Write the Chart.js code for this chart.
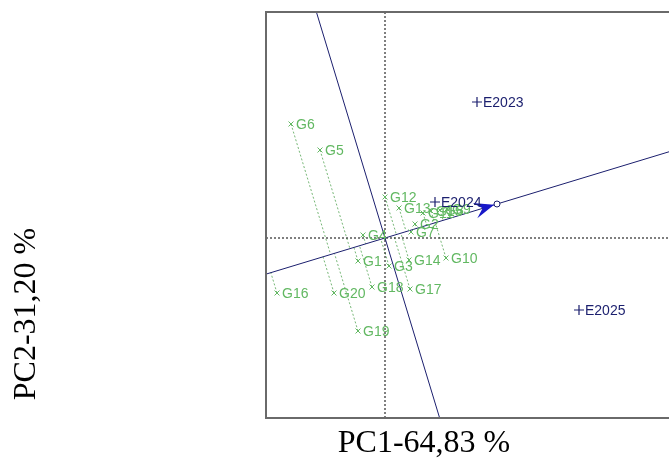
<!DOCTYPE html>
<html><head><meta charset="utf-8">
<script src="https://cdn.jsdelivr.net/npm/chart.js@4/dist/chart.umd.min.js"></script>
<style>html,body{margin:0;padding:0;background:#fff;overflow:hidden}canvas{display:block}</style>
</head><body>
<canvas id="c" width="669" height="459"></canvas>
<script>
// ---- data ----
const genotypes = ['G1','G2','G3','G4','G5','G6','G7','G8','G9','G10','G11','G12','G13','G14','G15','G16','G17','G18','G19','G20'];
const genoPC1 = [-0.54, 0.60, 0.08, -0.44, -1.30, -1.88, 0.52, 1.10, 1.24, 1.22, 0.76, 0.00, 0.28, 0.48, 0.92, -2.16, 0.50, -0.26, -0.54, -1.02];
const genoPC2 = [-0.46, 0.28, -0.56, 0.06, 1.76, 2.28, 0.12, 0.56, 0.58, -0.40, 0.50, 0.82, 0.60, -0.44, 0.54, -1.10, -1.02, -0.98, -1.86, -1.10];
const envNames = ['E2023','E2024','E2025'];
const envPC1 = [1.84, 1.00, 3.88];
const envPC2 = [2.72, 0.72, -1.44];
const avgEnv = [2.24, 0.68];      // average environment coordinate (small circle)
const xTitle = 'PC1-64,83 %';
const yTitle = 'PC2-31,20 %';
const xRange = [-2.38, 5.68];
const yRange = [-3.6, 4.52];

const GREEN = '#62b862';
const NAVY = '#1b1f6e';

// derived geometry
const len = Math.hypot(avgEnv[0], avgEnv[1]);
const u = [avgEnv[0]/len, avgEnv[1]/len];
const big = 20;
const aeaLine = [{x:-big*u[0], y:-big*u[1]}, {x:big*u[0], y:big*u[1]}];
const atcLine = [{x:big*u[1], y:-big*u[0]}, {x:-big*u[1], y:big*u[0]}];
const genoPts = genotypes.map((g,i)=>({x:genoPC1[i], y:genoPC2[i]}));
const envPts = envNames.map((e,i)=>({x:envPC1[i], y:envPC2[i]}));
const projDatasets = genoPts.map(p=>{
  const d = p.x*u[0] + p.y*u[1];
  return {type:'line', data:[{x:p.x,y:p.y},{x:d*u[0],y:d*u[1]}], borderColor:'rgba(95,170,95,0.85)', borderWidth:1, borderDash:[2,2], pointRadius:0, order:10};
});

const decor = {
  id:'decor',
  afterDatasetsDraw(chart){
    const ctx = chart.ctx, xs = chart.scales.x, ys = chart.scales.y, a = chart.chartArea;
    ctx.save();
    // arrowhead toward average environment
    const px = xs.getPixelForValue(avgEnv[0]), py = ys.getPixelForValue(avgEnv[1]);
    const ox = xs.getPixelForValue(0), oy = ys.getPixelForValue(0);
    const dx = px-ox, dy = py-oy, L = Math.hypot(dx,dy);
    const ux = dx/L, uy = dy/L, nx = -uy, ny = ux;
    const tx = px - ux*3, ty = py - uy*3;
    ctx.fillStyle = '#1818c8';
    ctx.beginPath();
    ctx.moveTo(tx, ty);
    ctx.lineTo(tx - ux*20 + nx*8, ty - uy*20 + ny*8);
    ctx.lineTo(tx - ux*12, ty - uy*12);
    ctx.lineTo(tx - ux*20 - nx*8, ty - uy*20 - ny*8);
    ctx.closePath();
    ctx.fill();
    // labels
    ctx.textBaseline = 'middle';
    ctx.textAlign = 'left';
    ctx.font = '14px "Liberation Sans", Arial, sans-serif';
    ctx.fillStyle = GREEN;
    genoPts.forEach((p,i)=>{
      ctx.fillText(genotypes[i], xs.getPixelForValue(p.x)+5, ys.getPixelForValue(p.y)+1);
    });
    ctx.fillStyle = NAVY;
    envPts.forEach((p,i)=>{
      ctx.fillText(envNames[i], xs.getPixelForValue(p.x)+6, ys.getPixelForValue(p.y)+1);
    });
    // frame (left, top, bottom)
    ctx.strokeStyle = '#6a6a6a';
    ctx.lineWidth = 2;
    ctx.beginPath();
    ctx.moveTo(a.right+2, a.top); ctx.lineTo(a.left, a.top); ctx.lineTo(a.left, a.bottom); ctx.lineTo(a.right+2, a.bottom);
    ctx.stroke();
    // axis titles
    ctx.fillStyle = '#000';
    ctx.font = '32px "Liberation Serif", "Times New Roman", serif';
    ctx.textAlign = 'center';
    ctx.textBaseline = 'middle';
    ctx.fillText(xTitle, 424, 444);
    ctx.translate(27, 314);
    ctx.rotate(-Math.PI/2);
    ctx.fillText(yTitle, 0, 0);
    ctx.restore();
  }
};

new Chart(document.getElementById('c'), {
  type:'scatter',
  data:{datasets:[
    {data:genoPts, pointStyle:'crossRot', radius:3.5, borderColor:GREEN, backgroundColor:GREEN, borderWidth:1, order:1},
    {data:envPts, pointStyle:'cross', radius:5, borderColor:NAVY, backgroundColor:NAVY, borderWidth:1.2, order:1},
    {data:[{x:avgEnv[0], y:avgEnv[1]}], pointStyle:'circle', radius:3, borderColor:NAVY, backgroundColor:'#fff', borderWidth:1, order:0},
    {type:'line', data:aeaLine, borderColor:NAVY, borderWidth:1, pointRadius:0, order:5},
    {type:'line', data:atcLine, borderColor:NAVY, borderWidth:1, pointRadius:0, order:5},
    {type:'line', data:[{x:0,y:yRange[0]},{x:0,y:yRange[1]}], borderColor:'#000', borderWidth:1, borderDash:[2,2], pointRadius:0, order:6},
    {type:'line', data:[{x:xRange[0],y:0},{x:xRange[1],y:0}], borderColor:'#000', borderWidth:1, borderDash:[2,2], pointRadius:0, order:6},
    ...projDatasets
  ]},
  options:{
    responsive:false, animation:false,
    layout:{autoPadding:false, padding:{left:266, top:12, right:0, bottom:41}},
    plugins:{legend:{display:false}, tooltip:{enabled:false}},
    scales:{
      x:{type:'linear', min:xRange[0], max:xRange[1], display:false},
      y:{type:'linear', min:yRange[0], max:yRange[1], display:false}
    }
  },
  plugins:[decor]
});
</script>
</body></html>
